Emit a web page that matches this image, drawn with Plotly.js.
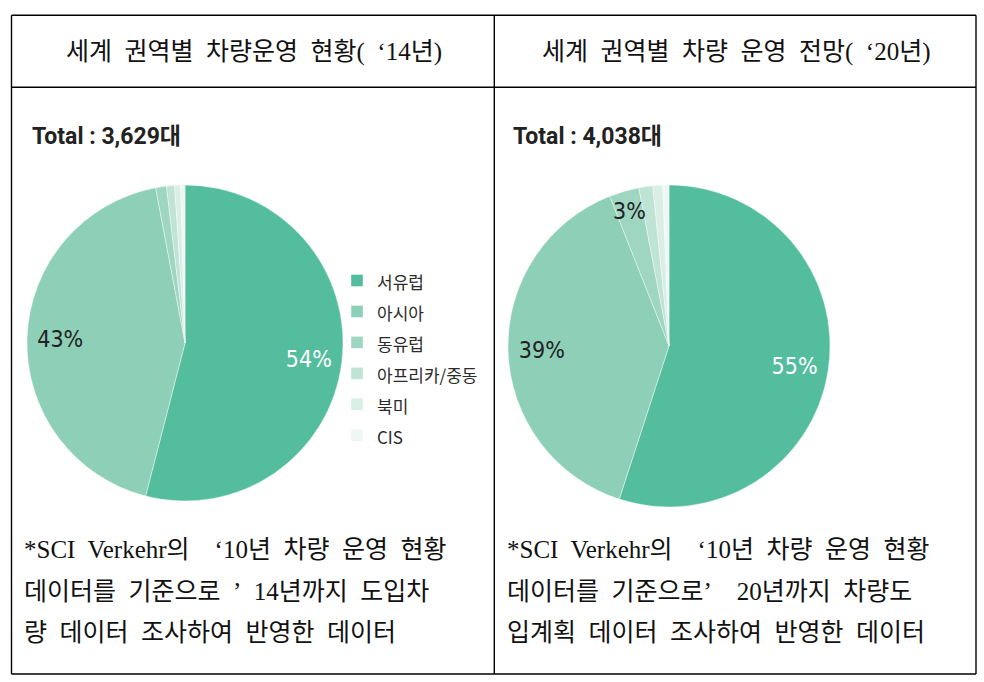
<!DOCTYPE html>
<html>
<head>
<meta charset="utf-8">
<script src="https://cdn.plot.ly/plotly-3.0.1.min.js"></script>
<style>
  html, body { margin: 0; padding: 0; background: #fff; }
  #chart { width: 984px; height: 682px; }
  /* rows are spaced by the legend font size, labels drawn a bit smaller */
  #chart .legendtext { font-size: 17px !important; }
</style>
</head>
<body>
<div id="chart"></div>
<script>
// regions and vehicle counts
var regions = ['서유럽', '아시아', '동유럽', '아프리카/중동', '북미', 'CIS'];
var units2014 = [1960, 1561, 40, 30, 22, 16];
var units2020 = [2221, 1575, 121, 56, 40, 25];
var colors = ['#53bd9d', '#8ecfb7', '#9fd6c1', '#bfe3d5', '#d9eee5', '#eef7f3'];

var title2014 = '세계 권역별 차량운영 현황( ‘14년)';
var title2020 = '세계 권역별 차량 운영 전망( ‘20년)';
var note2014 = ['*SCI Verkehr의  ‘10년 차량 운영 현황',
                '데이터를 기준으로 ’ 14년까지 도입차',
                '량 데이터 조사하여 반영한 데이터'];
var note2020 = ['*SCI Verkehr의  ‘10년 차량 운영 현황',
                '데이터를 기준으로’  20년까지 차량도',
                '입계획 데이터 조사하여 반영한 데이터'];

var W = 984, H = 682;
function px(x) { return x / W; }
function py(y) { return 1 - y / H; }
function sum(a) { return a.reduce(function (s, v) { return s + v; }, 0); }
// the document uses wide word gaps
function wide(t) { return t.split(' ').join('\u00a0 '); }

var narrow = "'Liberation Sans Narrow', 'DejaVu Sans Condensed', 'Noto Sans CJK KR', sans-serif";
var serif = "'Liberation Serif', 'Noto Sans CJK KR', serif";

// pie boxes (center x, center y, radius) in pixels
var pie1 = { cx: 185, cy: 343, r: 158 };
var pie2 = { cx: 669, cy: 346, r: 161 };
function dom(p) {
  return { x: [px(p.cx - p.r), px(p.cx + p.r)], y: [py(p.cy + p.r), py(p.cy - p.r)] };
}

function basePie(vals, p, leg) {
  return {
    type: 'pie', values: vals, labels: regions, domain: dom(p),
    sort: false, direction: 'clockwise', rotation: 0,
    marker: { colors: colors, line: { color: '#ffffff', width: 0.4 } },
    textinfo: 'none', legend: leg, hoverinfo: 'label+value+percent'
  };
}
// transparent ring on top only to carry the big % labels near the rim
function labelRing(vals, p, shown) {
  return {
    type: 'pie', values: vals, labels: regions, domain: dom(p), hole: 0.58,
    sort: false, direction: 'clockwise', rotation: 0,
    marker: { colors: regions.map(function () { return 'rgba(0,0,0,0)'; }), line: { width: 0 } },
    texttemplate: regions.map(function (r, i) { return i < shown ? '%{percent:.0%}' : ''; }),
    textposition: 'inside', insidetextorientation: 'horizontal',
    insidetextfont: { family: narrow, size: 23, color: ['#ffffff', '#222222'] },
    showlegend: false, hoverinfo: 'skip'
  };
}

var data = [
  basePie(units2014, pie1, 'legend'),
  basePie(units2020, pie2, 'legend2'),
  labelRing(units2014, pie1, 2),
  labelRing(units2020, pie2, 2)
];

// table grid
var lc = 'black', lw = 1.4;
function hline(y, x0, x1) { return { type: 'line', xref: 'paper', yref: 'paper', x0: px(x0), x1: px(x1), y0: py(y), y1: py(y), line: { color: lc, width: lw } }; }
function vline(x, y0, y1) { return { type: 'line', xref: 'paper', yref: 'paper', x0: px(x), x1: px(x), y0: py(y0), y1: py(y1), line: { color: lc, width: lw } }; }
var shapes = [
  hline(15.3, 11.5, 976), hline(87.3, 11.5, 976), hline(674, 11.5, 976),
  vline(11.5, 15.3, 674), vline(494.3, 15.3, 674), vline(976, 15.3, 674)
];

function ann(text, x, y, font, xanchor) {
  return { text: text, x: px(x), y: py(y), xref: 'paper', yref: 'paper', showarrow: false,
           xanchor: xanchor || 'left', yanchor: 'middle', font: font };
}
var headFont = { family: serif, size: 25, color: '#111' };
var noteFont = { family: serif, size: 25, color: '#111' };
var totalFont = { family: "Roboto, 'Noto Sans CJK KR', sans-serif", size: 23, color: '#222', weight: 'bold' };
var pctFont = { family: narrow, size: 23, color: '#222222' };

var annotations = [
  ann(wide(title2014), 254, 52, headFont, 'center'),
  ann(wide(title2020), 736, 52, headFont, 'center'),
  ann('Total : ' + sum(units2014).toLocaleString('en-US') + '대', 30, 136, totalFont),
  ann('Total : ' + sum(units2020).toLocaleString('en-US') + '대', 511, 136, totalFont)
];

// thin 동유럽 slice in 2020: its label sits over the rim, at the slice's mid angle
(function () {
  var tot = sum(units2020), before = sum(units2020.slice(0, 2)), v = units2020[2];
  var a = 2 * Math.PI * (before + v / 2) / tot;
  var rr = 0.87 * pie2.r;
  annotations.push(ann(Math.round(100 * v / tot) + '%', pie2.cx + rr * Math.sin(a), pie2.cy - rr * Math.cos(a), pctFont, 'center'));
})();

var lineY = [549, 591, 632];
note2014.forEach(function (t, i) { annotations.push(ann(wide(t), 22, lineY[i], noteFont)); });
note2020.forEach(function (t, i) { annotations.push(ann(wide(t), 505, lineY[i], noteFont)); });

var legFont = { family: "'Liberation Sans Narrow', 'Noto Sans CJK KR', sans-serif", size: 21.5, color: '#2a2a2a' };
var layout = {
  width: W, height: H,
  margin: { l: 0, r: 0, t: 0, b: 0 },
  paper_bgcolor: '#ffffff',
  shapes: shapes,
  annotations: annotations,
  legend: { x: px(337), y: py(358), xanchor: 'left', yanchor: 'middle', font: legFont, bgcolor: 'rgba(0,0,0,0)' },
  legend2: { x: px(822), y: py(359), xanchor: 'left', yanchor: 'middle', font: legFont, bgcolor: 'rgba(0,0,0,0)' }
};

Plotly.newPlot('chart', data, layout, { displayModeBar: false, staticPlot: true });
</script>
</body>
</html>
